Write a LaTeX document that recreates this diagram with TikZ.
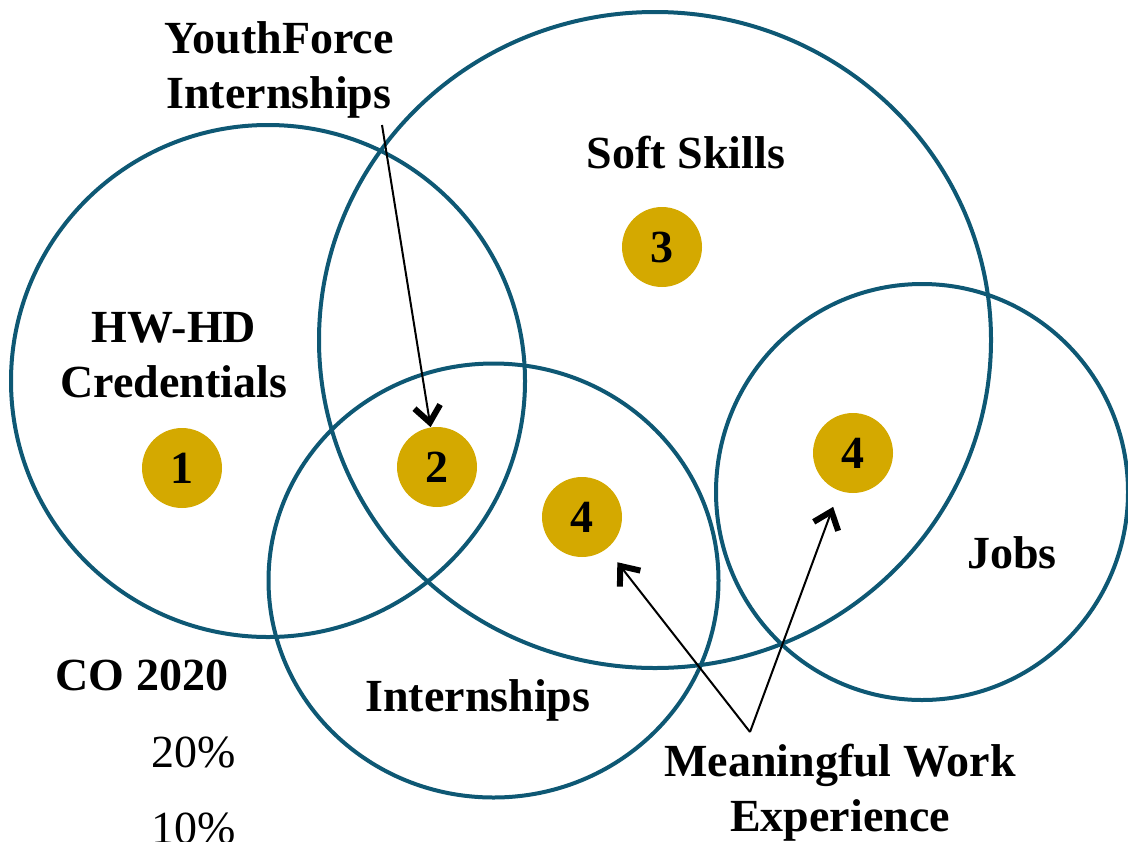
\documentclass[tikz,border=0pt]{standalone}
\usepackage{fontspec}
\setmainfont{Liberation Serif}
\usetikzlibrary{arrows.meta}

\definecolor{ringblue}{HTML}{0E5874}
\definecolor{discgold}{HTML}{D4A900}

\tikzset{
  ring/.style={draw=ringblue, line width=2pt},
  disc/.style={circle, fill=discgold, minimum size=40pt, inner sep=0pt,
    font=\bfseries\fontsize{23}{27}\selectfont},
  areatext/.style={align=center, font=\bfseries\fontsize{23}{27.5}\selectfont},
  plaintext/.style={font=\fontsize{23}{27.5}\selectfont},
  pointer/.style={line width=1pt,
    -{Straight Barb[length=8pt,width=13pt,line width=3pt]}}
}

\begin{document}
\begin{tikzpicture}[x=0.5pt,y=-0.5pt]
  \useasboundingbox (0,0) rectangle (1128,841);

  % the four fields
  \foreach \cx/\cy/\rx/\ry in {268/381/128.5/128, 655/340/168/164,
                               493.5/580.5/112.5/108.5, 922/492/103/104} {
    \draw[ring] (\cx,\cy) ellipse[x radius=\rx pt, y radius=\ry pt];
  }

  % numbered discs
  \node[disc] (one)   at (182,468) {1};
  \node[disc] (two)   at (437,467) {2};
  \node[disc] (three) at (662,247) {3};
  \node[disc] (foura) at (582,517) {4};
  \node[disc] (fourb) at (853,453) {4};

  % field names
  \node[areatext] (yforce) at (279,70)   {YouthForce\\Internships};
  \node[areatext] (soft)   at (686,153)  {Soft Skills};
  \node[areatext] (hwhd)   at (174,355)  {HW-HD\\Credentials};
  \node[areatext] (jobs)   at (1012,553) {Jobs};
  \node[areatext] (intern) at (478,700)  {Internships};
  \node[areatext] (mwork)  at (840,793)  {Meaningful Work\\Experience};

  % year and shares
  \node[areatext]  (year)  at (142,675) {CO 2020};
  \node[plaintext] (share) at (194,752) {20\%};
  \node[plaintext] (sharb) at (194,828) {10\%};

  % pointers
  \coordinate (yfstart) at (382,125);
  \coordinate (mwfork)  at (750,732);
  \draw[pointer] (yfstart) -- (two);
  \draw[pointer, shorten >=8.5pt] (mwfork) -- (foura);
  \draw[pointer, shorten >=8.5pt] (mwfork) -- (fourb);
\end{tikzpicture}
\end{document}
